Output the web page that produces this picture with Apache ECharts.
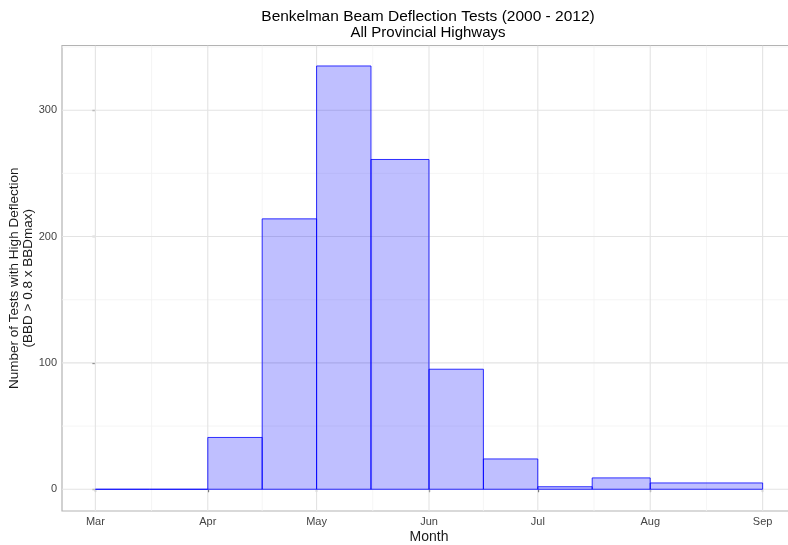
<!DOCTYPE html>
<html>
<head>
<meta charset="utf-8">
<script src="https://cdn.jsdelivr.net/npm/echarts@6/dist/echarts.min.js"></script>
<style>
  html, body { margin: 0; padding: 0; background: #fff; }
  #Map { width: 788px; height: 545px; }
</style>
</head>
<body>
<div id="Map"></div>
<script>
// bins in days since Mar 1 (semi-monthly, last one Aug-Sep)
var binStart = [0, 15, 31, 46, 61, 76, 92, 107, 122, 137, 153];
var binEnd   = [15, 31, 46, 61, 76, 92, 107, 122, 137, 153, 184];
var counts   = [0, 0, 41, 214, 335, 261, 95, 24, 2, 9, 5];

// axis ticks
var monthDays  = [0, 31, 61, 92, 122, 153, 184];
var monthNames = ['Mar', 'Apr', 'May', 'Jun', 'Jul', 'Aug', 'Sep'];
var minorDays  = [15.5, 46, 76.5, 107, 137.5, 168.5];
var yTicks     = [0, 100, 200, 300];
var yMinor     = [50, 150, 250, 350];

var xMin = -9.2, xMax = 193.2;
var yMin = -17.2, yMax = 351.2;

// grid lines: [vertical?, value, major?]
var gridData = [];
minorDays.forEach(function (d) { gridData.push([1, d, 0]); });
yMinor.forEach(function (v) { gridData.push([0, v, 0]); });
monthDays.forEach(function (d) { gridData.push([1, d, 1]); });
yTicks.forEach(function (v) { gridData.push([0, v, 1]); });

var binData = binStart.map(function (s, i) { return [s, binEnd[i], counts[i]]; });

var myChart = echarts.init(document.getElementById('Map'));
var font = 'Liberation Sans, Arial, sans-serif';

var option = {
  animation: false,
  backgroundColor: '#ffffff',
  grid: {
    left: 62, right: -8, top: 45.5, bottom: 34,
    outerBoundsMode: 'none',
    containLabel: false,
    show: true, borderColor: '#b3b3b3', borderWidth: 1.2, backgroundColor: 'transparent'
  },
  graphic: [
    { type: 'text', x: 428, y: 17, style: { text: 'Benkelman Beam Deflection Tests (2000 - 2012)', font: '15.5px ' + font, fill: '#000', textAlign: 'center', textVerticalAlign: 'middle' } },
    { type: 'text', x: 428, y: 33, style: { text: 'All Provincial Highways', font: '15px ' + font, fill: '#000', textAlign: 'center', textVerticalAlign: 'middle' } }
  ],
  xAxis: {
    type: 'value',
    min: xMin, max: xMax,
    name: 'Month',
    nameLocation: 'middle',
    nameGap: 19,
    nameMoveOverlap: false,
    nameTextStyle: { fontFamily: font, fontSize: 14, color: '#1a1a1a' },
    axisLine: { show: false },
    splitLine: { show: false },
    axisTick: { show: true, customValues: monthDays, length: 3, lineStyle: { color: '#444', width: 1.2 } },
    axisLabel: {
      customValues: monthDays,
      margin: 5,
      fontFamily: font, fontSize: 11, color: '#444',
      formatter: function (v) { return monthNames[monthDays.indexOf(v)]; }
    }
  },
  yAxis: {
    type: 'value',
    min: yMin, max: yMax,
    name: 'Number of Tests with High Deflection\n(BBD > 0.8 x BBDmax)',
    nameLocation: 'middle',
    nameGap: 27,
    nameMoveOverlap: false,
    nameTextStyle: { fontFamily: font, fontSize: 13.5, color: '#1a1a1a', lineHeight: 14 },
    axisLine: { show: false },
    splitLine: { show: false },
    axisTick: { show: true, customValues: yTicks, length: 3, lineStyle: { color: '#444', width: 1.2 } },
    axisLabel: { customValues: yTicks, margin: 5, fontFamily: font, fontSize: 11, color: '#444' }
  },
  series: [
    {
      type: 'custom',
      silent: true,
      z: 1,
      clip: true,
      data: gridData,
      renderItem: function (params, api) {
        var vert = api.value(0), v = api.value(1), major = api.value(2);
        var p1, p2;
        if (vert) { p1 = api.coord([v, yMin]); p2 = api.coord([v, yMax]); }
        else { p1 = api.coord([xMin, v]); p2 = api.coord([xMax, v]); }
        return {
          type: 'line',
          shape: { x1: p1[0], y1: p1[1], x2: p2[0], y2: p2[1] },
          style: { stroke: major ? '#e3e3e3' : '#f2f2f2', lineWidth: major ? 1.1 : 0.8 }
        };
      }
    },
    {
      type: 'custom',
      z: 2,
      data: binData,
      renderItem: function (params, api) {
        var p0 = api.coord([api.value(0), api.value(2)]);
        var p1 = api.coord([api.value(1), 0]);
        return {
          type: 'rect',
          shape: { x: p0[0], y: p0[1], width: p1[0] - p0[0], height: p1[1] - p0[1] },
          style: { fill: 'rgba(0,0,255,0.25)', stroke: 'rgba(0,0,255,0.8)', lineWidth: 1 }
        };
      }
    }
  ]
};

myChart.setOption(option);
</script>
</body>
</html>
